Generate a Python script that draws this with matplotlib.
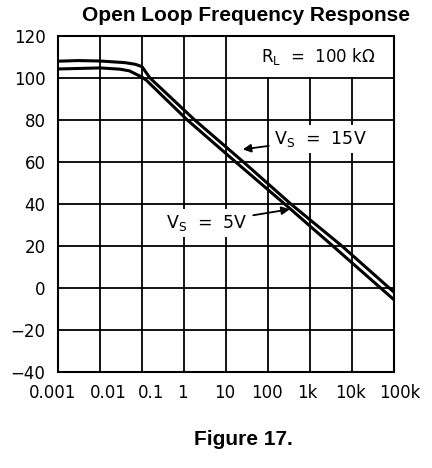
import matplotlib
matplotlib.use("Agg")
import matplotlib.pyplot as plt
from matplotlib.patches import Rectangle
from matplotlib.transforms import ScaledTranslation

# data
freq_15v = [0.001, 0.003, 0.01, 0.04, 0.07, 0.1, 0.155, 1.8, 26, 350, 5750, 100000]
gain_15v = [108.0, 108.3, 108.1, 107.3, 106.5, 105.4, 100, 80, 60, 40, 20, -2.0]
freq_5v = [0.001, 0.01, 0.03, 0.05, 0.1, 0.126, 1.2, 17, 250, 3500, 48000, 100000]
gain_5v = [104.3, 104.8, 104.2, 103.4, 100.4, 99, 80, 60, 40, 20, 0, -5.6]

xticks = [0.001, 0.01, 0.1, 1, 10, 100, 1000, 10000, 100000]
xlabels = ["0.001", "0.01", "0.1", "1", "10", "100", "1k", "10k", "100k"]
yticks = [-40, -20, 0, 20, 40, 60, 80, 100, 120]
ylabels = ["\u221240", "\u221220", "0", "20", "40", "60", "80", "100", "120"]

fig = plt.figure(figsize=(4.32, 4.68), dpi=100)
ax = fig.add_axes([58 / 432, 96 / 468, 336 / 432, 336 / 468])

ax.plot(freq_15v, gain_15v, color="black", lw=2.2, zorder=3)
ax.plot(freq_5v, gain_5v, color="black", lw=2.2, zorder=3)

ax.set_xscale("log")
ax.set_xlim(0.001, 100000)
ax.set_ylim(-40, 120)
ax.set_xticks(xticks)
ax.set_xticklabels(xlabels)
ax.minorticks_off()
ax.set_yticks(yticks)
ax.set_yticklabels(ylabels)
ax.tick_params(length=0, labelsize=12, pad=9)
ax.grid(True, color="black", lw=1.3)
for s in ax.spines.values():
    s.set_linewidth(1.5)

# the x labels sit a little off their grid lines in the original
shifts = [-5, 8, 9, -2, -1, -1, -3, -1, 6]
for lbl, dx in zip(ax.get_xticklabels(), shifts):
    lbl.set_transform(lbl.get_transform() + ScaledTranslation(dx / 100, 0, fig.dpi_scale_trans))

# white panel behind the R_L note (hides the grid there)
ax.add_patch(Rectangle((0.6, 0.878), 0.397, 0.12, transform=ax.transAxes,
                       facecolor="white", edgecolor="none", zorder=2))
ax.text(0.605, 0.94, r"R$_\mathregular{L}$  =  100 k$\Omega$", transform=ax.transAxes,
        fontsize=12, va="center", ha="left", zorder=4)

box = dict(facecolor="white", edgecolor="none", pad=3)
ax.annotate(r"V$_\mathregular{S}$  =  15V", xy=(25, 66), xytext=(1800, 71),
            fontsize=12.5, va="center", ha="center", bbox=box, zorder=4,
            arrowprops=dict(arrowstyle="-|>", color="black", lw=1.3,
                            shrinkA=1, shrinkB=0, mutation_scale=12))
ax.annotate(r"V$_\mathregular{S}$  =  5V", xy=(330, 37.5), xytext=(3.5, 31),
            fontsize=12.5, va="center", ha="center", bbox=box, zorder=4,
            arrowprops=dict(arrowstyle="-|>", color="black", lw=1.3,
                            shrinkA=1, shrinkB=0, mutation_scale=12))

fig.text(0.569, 0.966, "Open Loop Frequency Response", ha="center", va="center",
         fontsize=15, fontweight="bold", family="Liberation Sans")
fig.text(0.563, 0.06, "Figure 17.", ha="center", va="center",
         fontsize=15, fontweight="bold", family="Liberation Sans")

fig.savefig("out.png", dpi=100)
